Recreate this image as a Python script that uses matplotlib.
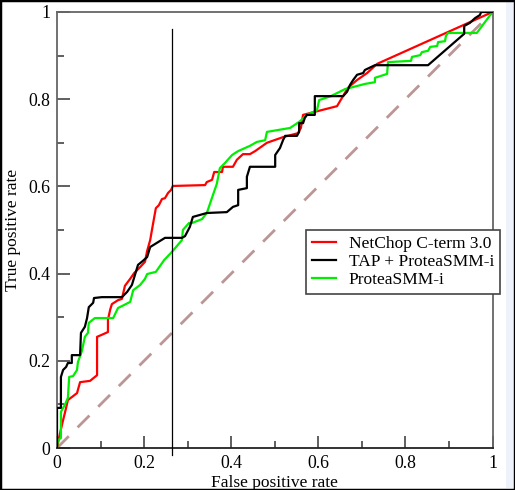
import matplotlib
matplotlib.use("Agg")
import matplotlib.pyplot as plt
from matplotlib.ticker import MultipleLocator, FuncFormatter
from matplotlib.patches import Rectangle

# NetChop C-term 3.0
red_x = [0, 0.007, 0.014, 0.018, 0.023, 0.025, 0.037, 0.046, 0.053, 0.076, 0.092, 0.092,
         0.106, 0.117, 0.117, 0.122, 0.126, 0.140, 0.149, 0.156, 0.168, 0.177, 0.191, 0.202,
         0.207, 0.214, 0.218, 0.223, 0.227, 0.234, 0.241, 0.248, 0.255, 0.262, 0.266, 0.340,
         0.344, 0.356, 0.361, 0.379, 0.381, 0.404, 0.413, 0.427, 0.443, 0.455, 0.482, 0.519,
         0.553, 0.560, 0.565, 0.592, 0.643, 0.668, 0.689, 0.712, 0.735, 1.0]
red_y = [0, 0.034, 0.064, 0.080, 0.101, 0.110, 0.119, 0.126, 0.151, 0.154, 0.167, 0.255,
         0.261, 0.266, 0.294, 0.317, 0.330, 0.339, 0.342, 0.372, 0.388, 0.401, 0.415, 0.427,
         0.452, 0.477, 0.500, 0.528, 0.550, 0.557, 0.571, 0.573, 0.585, 0.592, 0.601, 0.603,
         0.610, 0.615, 0.633, 0.633, 0.645, 0.645, 0.661, 0.674, 0.674, 0.681, 0.700, 0.713,
         0.722, 0.734, 0.764, 0.771, 0.784, 0.826, 0.844, 0.860, 0.881, 1.0]

# TAP + ProteaSMM-i
black_x = [0, 0, 0.009, 0.009, 0.014, 0.021, 0.025, 0.034, 0.034, 0.053, 0.055, 0.064,
           0.069, 0.073, 0.083, 0.085, 0.103, 0.149, 0.161, 0.172, 0.179, 0.186, 0.197,
           0.207, 0.214, 0.248, 0.287, 0.294, 0.305, 0.312, 0.344, 0.390, 0.404, 0.416,
           0.416, 0.436, 0.436, 0.443, 0.501, 0.501, 0.512, 0.519, 0.524, 0.551, 0.556,
           0.556, 0.565, 0.569, 0.574, 0.592, 0.592, 0.657, 0.666, 0.673, 0.680, 0.689,
           0.703, 0.707, 0.730, 0.852, 0.935, 0.935, 0.948, 0.960, 0.971, 0.974, 1.0]
black_y = [0, 0.092, 0.092, 0.163, 0.179, 0.186, 0.195, 0.195, 0.213, 0.213, 0.264, 0.278,
           0.298, 0.323, 0.333, 0.344, 0.346, 0.346, 0.358, 0.374, 0.397, 0.420, 0.429,
           0.438, 0.461, 0.482, 0.482, 0.486, 0.507, 0.530, 0.539, 0.541, 0.553, 0.557,
           0.592, 0.596, 0.622, 0.645, 0.645, 0.672, 0.688, 0.706, 0.716, 0.716, 0.725,
           0.745, 0.745, 0.757, 0.764, 0.764, 0.807, 0.807, 0.817, 0.833, 0.844, 0.856,
           0.860, 0.867, 0.878, 0.878, 0.950, 0.968, 0.975, 0.986, 0.993, 1.0, 1.0]

# ProteaSMM-i
green_x = [0, 0.002, 0.009, 0.009, 0.018, 0.025, 0.028, 0.037, 0.046, 0.048, 0.057, 0.064,
           0.071, 0.073, 0.087, 0.129, 0.140, 0.168, 0.175, 0.191, 0.202, 0.207, 0.227,
           0.246, 0.264, 0.287, 0.289, 0.303, 0.310, 0.333, 0.344, 0.358, 0.367, 0.374,
           0.386, 0.402, 0.416, 0.443, 0.459, 0.478, 0.482, 0.535, 0.556, 0.574, 0.597,
           0.602, 0.629, 0.661, 0.707, 0.730, 0.730, 0.758, 0.760, 0.813, 0.815, 0.834,
           0.838, 0.852, 0.857, 0.873, 0.875, 0.891, 0.893, 0.898, 0.964, 1.0]
green_y = [0, 0.018, 0.023, 0.083, 0.099, 0.115, 0.163, 0.165, 0.179, 0.197, 0.222, 0.255,
           0.264, 0.287, 0.298, 0.298, 0.321, 0.335, 0.362, 0.374, 0.388, 0.399, 0.404,
           0.431, 0.450, 0.477, 0.500, 0.516, 0.516, 0.525, 0.539, 0.580, 0.606, 0.642,
           0.654, 0.672, 0.681, 0.693, 0.702, 0.706, 0.725, 0.734, 0.748, 0.764, 0.775,
           0.798, 0.807, 0.823, 0.835, 0.839, 0.849, 0.858, 0.885, 0.888, 0.897, 0.901,
           0.908, 0.911, 0.920, 0.922, 0.931, 0.933, 0.945, 0.952, 0.952, 1.0]

diag = [0, 1]
threshold_x = 0.265
threshold_y = [-0.015, 0.961]

labels = ["NetChop C-term 3.0", "TAP + ProteaSMM-i", "ProteaSMM-i"]

plt.rcParams['font.family'] = ['Liberation Serif', 'DejaVu Serif']

fig = plt.figure(figsize=(5.15, 4.9), dpi=100)
fig.patches.append(Rectangle((506 / 515, 0.005), 7 / 515, 0.99, transform=fig.transFigure,
                             facecolor='#eef3fb', edgecolor='none', zorder=-5))
ax = fig.add_axes([57 / 515, 42 / 490, 435.5 / 515, 436 / 490])

ax.plot(diag, diag, color='#bc9595', lw=2, dashes=(6, 4.5), zorder=1)
ax.plot(red_x, red_y, color='#ff0000', lw=1.6, label=labels[0], zorder=3)
ax.plot(black_x, black_y, color='#000000', lw=1.6, label=labels[1], zorder=4)
ax.plot(green_x, green_y, color='#00ee00', lw=1.6, label=labels[2], zorder=3)
ax.plot([threshold_x, threshold_x], threshold_y, color='black', lw=0.9,
        clip_on=False, zorder=5)

ax.set_xlim(0, 1)
ax.set_ylim(0, 1)
ax.xaxis.set_major_locator(MultipleLocator(0.2))
ax.xaxis.set_minor_locator(MultipleLocator(0.1))
ax.yaxis.set_major_locator(MultipleLocator(0.2))
ax.yaxis.set_minor_locator(MultipleLocator(0.1))
fmt = FuncFormatter(lambda v, p: ('%g' % round(v, 2)))
ax.xaxis.set_major_formatter(fmt)
ax.yaxis.set_major_formatter(fmt)
ax.tick_params(which='both', direction='in', top=False, right=False,
               labelsize=12.8, color='#444444')
ax.tick_params(which='major', length=9, width=1.2, pad=5)
ax.tick_params(which='minor', length=5, width=1.2)
for s in ['top', 'right', 'left']:
    ax.spines[s].set_color('#666666')
    ax.spines[s].set_linewidth(1.3)
ax.spines['bottom'].set_color('#222222')
ax.spines['bottom'].set_linewidth(1.3)

ax.set_xlabel('False positive rate', fontsize=12.5, labelpad=2)
ax.set_ylabel('True positive rate', fontsize=12.5, labelpad=5)

leg = ax.legend(loc='upper left', bbox_to_anchor=(0.572, 0.5), fontsize=12.5,
                frameon=True, fancybox=False, shadow=False, handlelength=1.4,
                handletextpad=0.7, borderpad=0.35, labelspacing=0.1,
                borderaxespad=0)
leg.get_frame().set_edgecolor('#444444')
leg.get_frame().set_linewidth(1.2)
leg.get_frame().set_alpha(1)
leg.set_zorder(10)

fig.patches.append(Rectangle((0, 0), 1, 1, transform=fig.transFigure,
                             fill=False, edgecolor='black', lw=2.5))

fig.savefig('out.png', dpi=100)
